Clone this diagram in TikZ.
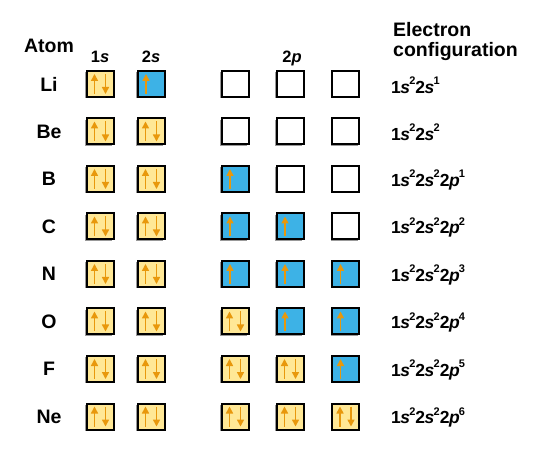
\documentclass[tikz,border=0pt]{standalone}
\usepackage{fontspec}
\setmainfont{Liberation Sans}
\usetikzlibrary{arrows.meta,shadows}
\definecolor{ylw}{HTML}{FFE896}
\definecolor{blu}{HTML}{3DB2E6}
\definecolor{org}{HTML}{E8980C}
\newcommand\sups[1]{\raisebox{0.5em}{\fontsize{11}{11}\selectfont #1}}
\newcommand\cfgS[2]{#1\kern-0.5pt\textit{s}\kern-0.8pt\sups{#2}}
\newcommand\cfgP[2]{#1\kern-0.5pt\textit{p}\kern-0.8pt\sups{#2}}
\begin{document}
\begin{tikzpicture}[x=1pt,y=-1pt,
  orb/.style={draw=black,line width=2pt,minimum width=27pt,minimum height=26pt,inner sep=0pt,
    drop shadow={shadow xshift=-1.2pt,shadow yshift=-1.2pt,fill=black!40,opacity=1}},
  orbY/.style={orb,fill=ylw},
  orbB/.style={orb,fill=blu},
  orbE/.style={orb,fill=white},
  spin/.style={draw=org,line width=1.6pt,-{Triangle[length=7pt,width=7pt]}},
  lbl/.style={font=\fontsize{19.5}{22}\selectfont\bfseries,inner sep=0pt},
  hdr/.style={font=\fontsize{16.5}{18}\selectfont\bfseries,inner sep=0pt,anchor=base},
  cfg/.style={font=\fontsize{17.5}{20}\selectfont\bfseries,inner sep=0pt,anchor=west}]
\useasboundingbox (0,0) rectangle (544,457);
% headers
\node[lbl,anchor=base] (hatom) at (49,53) {Atom};
\node[hdr] (h1s) at (100,63) {1\textit{s}};
\node[hdr] (h2s) at (151,63) {2\textit{s}};
\node[hdr] (h2p) at (292,63) {2\textit{p}};
\node[lbl,anchor=base west] (hel1) at (393,37) {Electron};
\node[lbl,anchor=base west] (hel2) at (393,57) {configuration};
% rows: name, y, 1s, 2s, p1, p2, p3, config
\foreach \nm/\yy/\a/\b/\c/\d/\e/\cf [count=\r] in {
  Li/84/2/1/0/0/0/{\cfgS{1}{2}\cfgS{2}{1}},
  Be/131.5/2/2/0/0/0/{\cfgS{1}{2}\cfgS{2}{2}},
  B/179/2/2/1/0/0/{\cfgS{1}{2}\cfgS{2}{2}\cfgP{2}{1}},
  C/226.5/2/2/1/1/0/{\cfgS{1}{2}\cfgS{2}{2}\cfgP{2}{2}},
  N/274/2/2/1/1/1/{\cfgS{1}{2}\cfgS{2}{2}\cfgP{2}{3}},
  O/321.5/2/2/2/1/1/{\cfgS{1}{2}\cfgS{2}{2}\cfgP{2}{4}},
  F/369/2/2/2/2/1/{\cfgS{1}{2}\cfgS{2}{2}\cfgP{2}{5}},
  Ne/416.5/2/2/2/2/2/{\cfgS{1}{2}\cfgS{2}{2}\cfgP{2}{6}}}{
  \node[lbl] (at\r) at (49,\yy) {\nm};
  \node[cfg] (cf\r) at (391,\yy+1) {\cf};
  \foreach \occ/\xx [count=\k] in {\a/100,\b/151,\c/235,\d/290,\e/345.5}{
    \ifcase\occ
      \node[orbE] (o\r-\k) at (\xx,\yy) {};
    \or
      \node[orbB] (o\r-\k) at (\xx,\yy) {};
      \draw[spin] ([xshift=-5pt,yshift=-10pt]o\r-\k.center) -- ([xshift=-5pt,yshift=10pt]o\r-\k.center);
    \or
      \node[orbY] (o\r-\k) at (\xx,\yy) {};
      \draw[spin] ([xshift=-5.5pt,yshift=-10pt]o\r-\k.center) -- ([xshift=-5.5pt,yshift=10pt]o\r-\k.center);
      \draw[spin] ([xshift=5.5pt,yshift=10pt]o\r-\k.center) -- ([xshift=5.5pt,yshift=-10pt]o\r-\k.center);
    \fi
  }
}
\end{tikzpicture}
\end{document}
